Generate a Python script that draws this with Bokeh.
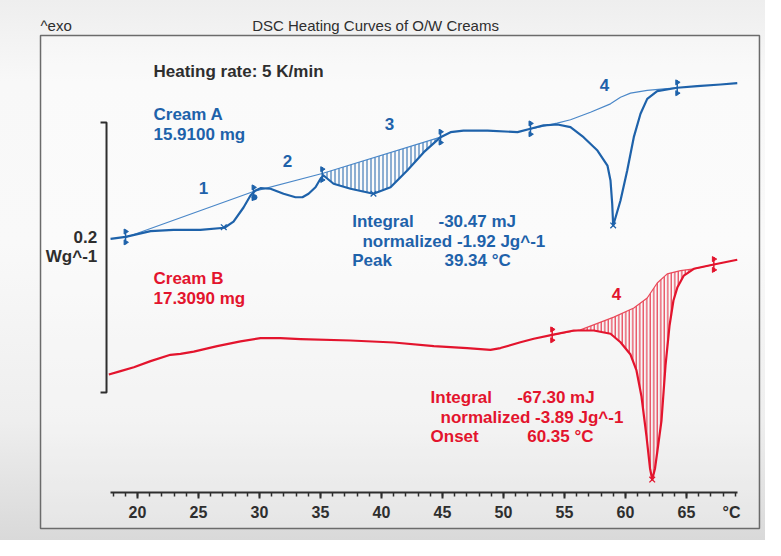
import numpy as np
from bokeh.plotting import figure
from bokeh.models import Range1d, LinearAxis, SingleIntervalTicker
from bokeh.core.properties import value
from bokeh.embed import file_html
from bokeh.resources import INLINE

# ---------------- data (temperature in °C, heat flow in mW/g, relative) ----------------
temp_a = [17.79, 19.02, 21.07, 22.95, 25.16, 27.13, 27.87, 28.69, 29.26, 29.67,
          30.08, 30.90, 31.97, 32.95, 33.52, 34.02, 34.59, 35.00, 35.25, 36.07,
          37.46, 39.34, 40.74, 42.11, 43.47, 44.84, 45.66, 46.72, 48.69, 51.15,
          52.21, 53.28, 54.43, 55.49, 56.56, 57.70, 58.52, 58.77, 58.91, 58.99,
          59.59, 60.14, 60.68, 61.23, 61.78, 62.60, 64.24, 65.88, 67.79, 69.16]
heat_a = [187.9, 189.3, 193.6, 194.6, 194.6, 196.1, 200.7, 211.1, 220.0, 223.7,
          225.4, 225.0, 221.3, 218.7, 218.7, 221.3, 226.1, 232.4, 234.8, 228.7,
          225.0, 221.3, 226.1, 238.5, 252.1, 263.2, 266.9, 268.1, 268.1, 266.9,
          269.4, 271.9, 272.6, 270.6, 263.2, 253.3, 242.2, 231.1, 213.9, 197.8,
          216.3, 238.5, 263.2, 280.5, 291.6, 297.3, 299.8, 301.0, 302.2, 303.2]
base_a_temp = [19.02, 29.51, 35.14, 44.84]
base_a_heat = [188.9, 223.0, 236.3, 263.2]
base_a4_temp = [52.21, 54.40, 55.49, 57.13, 58.77, 59.59, 60.41, 61.78, 63.14, 64.24]
base_a4_heat = [269.4, 273.6, 276.1, 281.7, 287.9, 292.8, 295.8, 297.8, 299.0, 299.8]

temp_b = [17.65, 18.61, 19.70, 21.07, 22.70, 23.52, 24.61, 26.53, 28.44, 30.08,
          31.72, 33.36, 37.46, 41.01, 44.29, 47.02, 48.93, 49.75, 51.39, 52.48,
          53.99, 55.76, 57.40, 58.77, 59.59, 60.41, 60.90, 61.31, 61.72, 62.01,
          62.19, 62.42, 62.62, 62.95, 63.28, 63.61, 63.93, 64.26, 64.78, 65.60,
          67.24, 69.16]
heat_b = [87.4, 89.9, 92.8, 97.3, 102.0, 102.7, 104.4, 108.4, 111.9, 114.3,
          114.3, 113.6, 112.6, 111.1, 108.4, 106.9, 105.7, 107.0, 111.3, 113.9,
          116.8, 120.0, 120.0, 117.6, 111.3, 102.2, 90.4, 71.1, 41.5, 17.8,
          9.6, 17.8, 31.1, 53.3, 94.1, 123.7, 142.2, 152.1, 160.7, 165.7,
          168.9, 172.4]
base_b_temp = [53.99, 56.31, 59.04, 60.68, 61.78, 62.60, 63.42, 64.51, 65.60, 67.24]
base_b_heat = [116.8, 120.5, 129.9, 136.7, 144.1, 155.2, 161.9, 164.4, 165.7, 168.9]

limits_a_temp = [19.02, 29.51, 35.14, 44.84, 52.21, 64.24]
limits_a_heat = [189.3, 222.0, 235.5, 263.2, 269.4, 299.8]
limits_b_temp = [53.99, 67.24]
limits_b_heat = [116.8, 168.9]
peaks_a_temp = [27.07, 39.34, 58.99]
peaks_a_heat = [196.5, 221.3, 197.8]
peaks_b_temp = [62.19]
peaks_b_heat = [9.6]
dot_a_temp = [29.59]
dot_a_heat = [218.7]

area_a = (35.14, 44.84)   # integrated region, peak 3 of cream A
area_b = (53.99, 65.60)   # integrated region, peak 4 of cream B

peak_labels = ["1", "2", "3", "4"]
peak_label_temp = [25.41, 32.30, 40.66, 58.28]
peak_label_heat = [225.2, 245.2, 272.6, 302.2]

scale_bar_base = 74.1      # mW/g
scale_bar_span = 200.0     # 0.2 W/g

x_ticks_major = 5
axis_bounds = (17.8, 69.2)

BLUE = "#1e62aa"
BLUE_THIN = "#4a87c8"
RED = "#e3142d"
RED_THIN = "#ea4a5a"
DARK = "#2e2e2e"
FONT = value("Liberation Sans")

p = figure(width=765, height=540,
           x_range=Range1d(8.770, 71.475), y_range=Range1d(-35.56, 364.44),
           output_backend="svg", toolbar_location=None,
           x_axis_type=None, y_axis_type=None, min_border=0,
           border_fill_color=None, background_fill_color=None,
           outline_line_color=None,
           styles={"background": "linear-gradient(to bottom, #eeeeee 0%, #f8f8f8 15%, #f9f9f9 45%, #eeeeee 78%, #d9d9d9 100%)"})

# frame box
p.quad(left=12.05, right=70.98, bottom=-26.7, top=338.5,
       fill_color="white", fill_alpha=0.3, line_color="#6b6b6b", line_width=1.5)

# x axis drawn through library axis
xaxis = LinearAxis(fixed_location=0, bounds=axis_bounds,
                   ticker=SingleIntervalTicker(interval=x_ticks_major, num_minor_ticks=5))
xaxis.axis_line_width = 2
xaxis.axis_line_color = DARK
xaxis.major_tick_in = 0
xaxis.major_tick_out = 6
xaxis.major_tick_line_width = 2
xaxis.major_tick_line_color = DARK
xaxis.minor_tick_in = 0
xaxis.minor_tick_out = 4
xaxis.minor_tick_line_width = 1.5
xaxis.minor_tick_line_color = DARK
xaxis.major_label_text_font = "Liberation Sans"
xaxis.major_label_text_font_style = "bold"
xaxis.major_label_text_font_size = "16px"
xaxis.major_label_text_color = DARK
xaxis.major_label_standoff = 8
p.add_layout(xaxis, "below")
p.text(x=[68.69], y=[-14.8], text=["°C"], text_font=FONT, text_font_style="bold",
       text_font_size="16px", text_color=DARK, text_align="center", text_baseline="middle")

# scale bar
sb_top = scale_bar_base + scale_bar_span
p.line(x=[16.97, 17.46, 17.46, 16.97], y=[sb_top, sb_top, scale_bar_base, scale_bar_base],
       line_color=DARK, line_width=2)
p.text(x=[16.70, 16.70], y=[188.9, 174.8], text=["0.2", "Wg^-1"], text_font=FONT,
       text_font_style="bold", text_font_size="17px", text_color=DARK,
       text_align="right", text_baseline="middle")

# hatched integration areas
ta, ha = np.array(temp_a), np.array(heat_a)
sel = (ta >= area_a[0] - 0.2) & (ta <= area_a[1])
bta, bha = np.array(base_a_temp), np.array(base_a_heat)
bsel = (bta >= area_a[0]) & (bta <= area_a[1])
p.patch(x=list(ta[sel]) + list(bta[bsel][::-1]), y=list(ha[sel]) + list(bha[bsel][::-1]),
        fill_color=None, line_color=None, hatch_pattern="vertical_line",
        hatch_color=BLUE, hatch_scale=4, hatch_weight=1)

tb, hb = np.array(temp_b), np.array(heat_b)
sel = (tb >= area_b[0]) & (tb <= area_b[1])
btb, bhb = np.array(base_b_temp), np.array(base_b_heat)
bsel = (btb >= area_b[0]) & (btb <= area_b[1])
p.patch(x=list(tb[sel]) + list(btb[bsel][::-1]), y=list(hb[sel]) + list(bhb[bsel][::-1]),
        fill_color=None, line_color=None, hatch_pattern="vertical_line",
        hatch_color=RED, hatch_scale=3.5, hatch_weight=1)

# baselines
p.line(base_a_temp, base_a_heat, line_color=BLUE_THIN, line_width=1.2)
p.line(base_a4_temp, base_a4_heat, line_color=BLUE_THIN, line_width=1.2)
p.line(base_b_temp, base_b_heat, line_color=RED_THIN, line_width=1.2)

# curves
p.line(temp_a, heat_a, line_color=BLUE, line_width=2.2, line_join="round")
p.line(temp_b, heat_b, line_color=RED, line_width=2.2, line_join="round")

# limit markers: vertical tick with small flags
flag = 4.0  # heat-flow offset of the small flags (mW/g)
for lt, lh, col in ((limits_a_temp, limits_a_heat, BLUE), (limits_b_temp, limits_b_heat, RED)):
    lh = np.array(lh)
    p.scatter(lt, lh, marker="dash", angle=np.pi / 2, size=15, line_color=col, line_width=1.5)
    p.scatter(list(lt) * 2, list(lh + flag) + list(lh - flag), marker="triangle",
              angle=-np.pi / 2, size=5, fill_color=col, line_color=col)

p.scatter(peaks_a_temp, peaks_a_heat, marker="x", size=8, line_color=BLUE, line_width=1.3)
p.scatter(peaks_b_temp, peaks_b_heat, marker="x", size=8, line_color=RED, line_width=1.3)
p.scatter(dot_a_temp, dot_a_heat, marker="circle", size=5, fill_color=BLUE, line_color=BLUE)

# texts
p.text(x=[12.05], y=[345.9], text=["^exo"], text_font=FONT, text_font_size="15px",
       text_color=DARK, text_align="left", text_baseline="middle")
p.text(x=[39.51], y=[345.9], text=["DSC Heating Curves of O/W Creams"], text_font=FONT,
       text_font_size="15px", text_color=DARK, text_align="center", text_baseline="middle")
p.text(x=[21.31], y=[311.9], text=["Heating rate: 5 K/min"], text_font=FONT,
       text_font_style="bold", text_font_size="17px", text_color=DARK,
       text_align="left", text_baseline="middle")

p.text(x=[21.31, 21.31], y=[280.0, 265.2], text=["Cream A", "15.9100 mg"], text_font=FONT,
       text_font_style="bold", text_font_size="17px", text_color=BLUE,
       text_align="left", text_baseline="middle")
p.text(x=[21.31, 21.31], y=[158.5, 143.7], text=["Cream B", "17.3090 mg"], text_font=FONT,
       text_font_style="bold", text_font_size="17px", text_color=RED,
       text_align="left", text_baseline="middle")

p.text(x=peak_label_temp, y=peak_label_heat, text=peak_labels, text_font=FONT,
       text_font_style="bold", text_font_size="17px", text_color=BLUE,
       text_align="center", text_baseline="middle")
p.text(x=[59.26], y=[147.4], text=["4"], text_font=FONT,
       text_font_style="bold", text_font_size="17px", text_color=RED,
       text_align="center", text_baseline="middle")

p.text(x=[37.60, 44.67, 38.44, 37.60, 45.16], y=[200.7, 200.7, 185.9, 171.9, 171.9],
       text=["Integral", "-30.47 mJ", "normalized -1.92 Jg^-1", "Peak", "39.34 °C"],
       text_font=FONT, text_font_style="bold", text_font_size="17px", text_color=BLUE,
       text_align="left", text_baseline="middle")
p.text(x=[44.02, 51.12, 44.84, 44.02, 51.94], y=[70.6, 70.6, 55.8, 41.5, 41.5],
       text=["Integral", "-67.30 mJ", "normalized -3.89 Jg^-1", "Onset", "60.35 °C"],
       text_font=FONT, text_font_style="bold", text_font_size="17px", text_color=RED,
       text_align="left", text_baseline="middle")

open("out.html", "w").write(file_html(p, INLINE))
